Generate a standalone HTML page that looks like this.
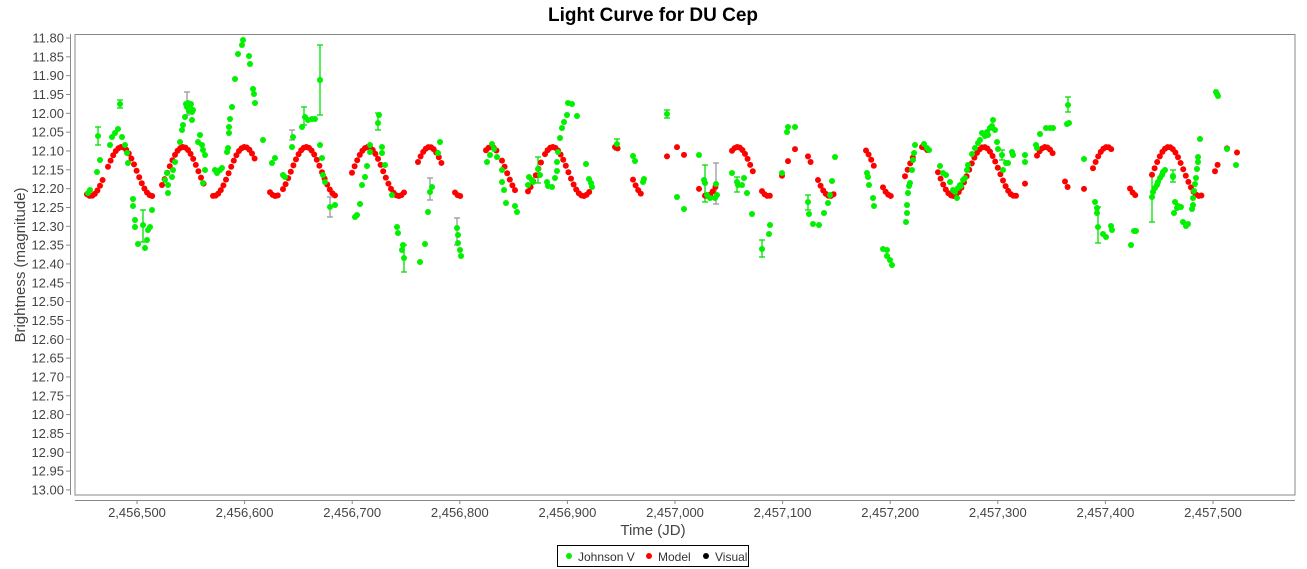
<!DOCTYPE html>
<html><head><meta charset="utf-8"><style>
body{margin:0;background:#fff;width:1307px;height:569px;overflow:hidden}
svg{display:block;font-family:"Liberation Sans",sans-serif}
</style></head><body>
<svg id="s" width="1307" height="569" xmlns="http://www.w3.org/2000/svg">
<rect width="1307" height="569" fill="#fff"/>
<text x="653" y="21" text-anchor="middle" font-size="19" font-weight="bold" fill="#000">Light Curve for DU Cep</text>
<rect x="75" y="34.5" width="1220" height="460.5" fill="#fff" stroke="#888" stroke-width="1"/>
<line x1="70.5" y1="34" x2="70.5" y2="495" stroke="#888"/>
<line x1="75" y1="500.5" x2="1295" y2="500.5" stroke="#888"/>
<g id="ax" font-size="13" fill="#444"></g>
<g id="eb"></g>
<g id="red" fill="#f00"></g>
<g id="grn" fill="#00f000"></g>
<text x="653" y="535" text-anchor="middle" font-size="15" fill="#444">Time (JD)</text>
<text transform="translate(25,265) rotate(-90)" text-anchor="middle" font-size="15" fill="#444">Brightness (magnitude)</text>
<rect x="557.5" y="545.5" width="191" height="21" fill="#fff" stroke="#000"/>
<circle cx="569" cy="556" r="3" fill="#00f000"/><text x="578" y="561" font-size="12" fill="#333">Johnson V</text>
<circle cx="649" cy="556" r="3" fill="#f00"/><text x="658" y="561" font-size="12" fill="#333">Model</text>
<circle cx="706" cy="556" r="3" fill="#000"/><text x="715" y="561" font-size="12" fill="#333">Visual</text>
</svg>
<script>
var NS="http://www.w3.org/2000/svg";
function el(p,t,a){var e=document.createElementNS(NS,t);for(var k in a)e.setAttribute(k,a[k]);document.getElementById(p).appendChild(e);return e;}
for(var i=0;i<=24;i++){var m=11.8+i*0.05,y=38+i*18.83;
 el("ax","line",{x1:66,y1:y,x2:70,y2:y,stroke:"#888"});
 var t=el("ax","text",{x:64,y:y+4.5,"text-anchor":"end"});t.textContent=m.toFixed(2);}
var xl=["2,456,500","2,456,600","2,456,700","2,456,800","2,456,900","2,457,000","2,457,100","2,457,200","2,457,300","2,457,400","2,457,500"];
for(var k=0;k<11;k++){var x=137+k*107.6;
 el("ax","line",{x1:x,y1:500,x2:x,y2:504,stroke:"#888"});
 var t=el("ax","text",{x:x,y:517,"text-anchor":"middle"});t.textContent=xl[k];}
var R=[[87,103],[108,153],[162,206],[213,257],[270,280],[283,337],[352,405],[418,442],[455,462],[486,497],[502,517],[528,542],[545,590],[615,618],[633,642],[667,667],[677,677],[684,684],[699,699],[705,718],[732,753],[762,770],[782,782],[788,788],[795,795],[808,813],[818,835],[866,875],[883,893],[905,915],[922,928],[938,1017],[1025,1025],[1037,1053],[1065,1070],[1084,1084],[1093,1113],[1130,1137],[1152,1202],[1215,1218],[1227,1227],[1237,1237]];
R.forEach(function(r){for(var x=r[0];x<=r[1];x+=2.6){var y=171.5-24.5*Math.cos(2*Math.PI*(x-121.5)/61.6);el("red","circle",{cx:x,cy:y,r:3});}});
var E=[[98,127,145,0],[120,100,108,0],[143,210,242,0],[187,92,115,1],[320,45,115,0],[330,197,217,1],[304,107,125,0],[378,113,130,0],[404,245,272,0],[430,178,200,1],[457,218,245,1],[538,157,183,0],[617,139,150,0],[667,110,118,0],[705,165,202,0],[716,163,204,1],[737,177,192,0],[762,240,257,0],[808,195,210,0],[1098,207,243,0],[1152,175,222,0],[1068,97,112,0],[1173,170,182,0],[292,130,140,1],[1002,150,160,0]];
E.forEach(function(e){var c=e[3]?"#999":"#00e000";
 el("eb","line",{x1:e[0],y1:e[1],x2:e[0],y2:e[2],stroke:c,"stroke-width":1.3});
 el("eb","line",{x1:e[0]-3,y1:e[1],x2:e[0]+3,y2:e[1],stroke:c,"stroke-width":1.3});
 el("eb","line",{x1:e[0]-3,y1:e[2],x2:e[0]+3,y2:e[2],stroke:c,"stroke-width":1.3});});
var G=[[88,193],[90,190],[97,172],[98,136],[100,160],[110,145],[112,137],[115,133],[118,129],[120,104],[122,137],[125,145],[127,153],[128,163],[133,199],[133,206],[135,220],[135,227],[138,244],[143,225],[145,248],[147,240],[148,230],[150,227],[152,210],
[165,180],[167,173],[168,185],[168,193],[172,177],[173,170],[175,162],[180,142],[182,130],[183,125],[185,117],[187,107],[188,103],[190,108],[192,112],[193,110],[192,120],[198,142],[200,135],[202,145],[203,150],[205,155],[203,183],[205,170],[186,104],[189,111],[191,104],
[215,170],[217,173],[220,170],[222,168],[227,152],[228,148],[229,133],[229,127],[230,119],[232,107],[235,79],[238,54],[242,45],[243,40],[249,56],[250,64],[253,89],[254,94],[255,103],[263,140],
[272,163],[275,158],[283,175],[285,177],[292,147],[293,137],[302,127],[305,117],[308,120],[312,119],[315,119],[320,80],[320,145],[322,158],[323,175],[325,182],[330,207],[335,205],
[355,217],[357,215],[360,204],[362,185],[365,177],[367,166],[370,152],[370,145],[378,123],[379,115],[382,147],[382,153],[385,165],[392,195],[397,227],[398,233],[402,250],[404,258],[403,245],[420,262],[425,244],[428,212],[430,192],[432,187],[440,142],[438,153],[457,228],[458,235],[458,243],[460,250],[461,256],
[487,162],[490,155],[492,144],[494,149],[497,157],[502,170],[502,182],[504,190],[506,203],[515,206],[517,212],[528,185],[529,177],[532,180],[533,182],[538,169],[540,175],[547,182],[548,186],[552,187],[555,178],[557,171],[557,162],[558,152],[560,138],[562,128],[564,122],[567,115],[568,103],[572,104],[577,116],[586,164],[589,179],[591,183],[592,187],
[617,144],[633,156],[635,161],[643,182],[644,179],[667,114],[677,197],[684,209],[699,155],[704,180],[705,183],[707,195],[710,198],[715,198],[716,184],[717,195],[732,173],[737,182],[738,185],[742,185],[744,178],[747,193],[752,214],[762,249],[769,234],[770,225],[782,173],[787,132],[788,127],[795,127],[808,202],[809,214],[813,224],[819,225],[824,213],[828,203],[830,195],[832,181],[835,157],
[867,173],[868,177],[869,185],[873,198],[874,206],[883,249],[887,250],[887,256],[890,260],[892,265],[906,222],[907,213],[907,205],[908,193],[909,186],[910,183],[912,170],[913,160],[914,153],[915,145],[924,144],[927,148],[929,150],
[940,166],[943,173],[946,175],[950,182],[955,192],[957,198],[958,188],[960,185],[963,180],[967,170],[968,165],[972,154],[975,148],[978,143],[982,133],[985,136],[987,132],[990,128],[992,126],[993,120],[995,130],[997,142],[998,149],[1002,155],[1003,170],[1006,163],[1008,163],[1012,152],[1013,155],[1025,155],[1025,162],[1036,145],[1037,148],[1040,134],[1046,128],[1050,128],[1053,128],[1068,105],[1067,124],[1069,123],[1084,159],[1095,202],[1097,208],[1097,213],[1098,227],[1103,234],[1106,237],[1111,226],[1112,230],[1131,245],[1134,231],[1136,231],
[1152,197],[1153,192],[1155,188],[1157,185],[1158,182],[1160,178],[1162,175],[1163,172],[1165,170],[1173,176],[1173,177],[1175,202],[1174,213],[1177,208],[1178,206],[1181,207],[1183,222],[1186,226],[1188,224],[1192,209],[1193,205],[1193,198],[1194,191],[1195,184],[1196,178],[1197,169],[1198,162],[1198,157],[1200,139],[1216,92],[1217,94],[1218,96],[1227,149],[1236,165],
[961,186],[965,178],[953,190],[980,140],[988,135]];
G.forEach(function(p){el("grn","circle",{cx:p[0],cy:p[1],r:3});});
</script>
</body></html>
